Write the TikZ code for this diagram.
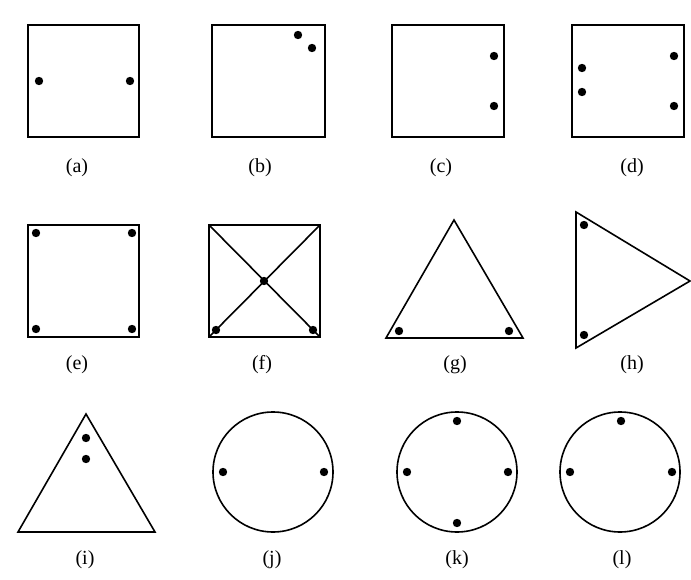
\documentclass[tikz,border=0pt]{standalone}
\usepackage{fontspec}
\setmainfont{Liberation Serif}
\begin{document}
\begin{tikzpicture}[x=1pt,y=-1pt,
  shape line/.style={line width=1.6pt, line join=miter},
  dot/.style={fill=black},
  lab/.style={font=\fontsize{20}{24}\selectfont, inner sep=0pt}]
\useasboundingbox (0,0) rectangle (691,580);
\def\dr{4.2}
% (a)
\draw[shape line] (28,25) rectangle (139,137);
\fill[dot] (39,81) circle (\dr) (130,81) circle (\dr);
\node[lab] (la) at (77,168) {(a)};
% (b)
\draw[shape line] (212,25) rectangle (325,137);
\fill[dot] (298,35) circle (\dr) (312,48) circle (\dr);
\node[lab] (lb) at (260,168) {(b)};
% (c)
\draw[shape line] (392,25) rectangle (504,137);
\fill[dot] (494,56) circle (\dr) (494,106) circle (\dr);
\node[lab] (lc) at (441,168) {(c)};
% (d)
\draw[shape line] (572,25) rectangle (684,137);
\fill[dot] (582,68) circle (\dr) (582,92) circle (\dr) (674,56) circle (\dr) (674,106) circle (\dr);
\node[lab] (ld) at (632,168) {(d)};
% (e)
\draw[shape line] (28,225) rectangle (139,337);
\fill[dot] (36,233) circle (\dr) (132,233) circle (\dr) (36,329) circle (\dr) (132,329) circle (\dr);
\node[lab] (le) at (77,365) {(e)};
% (f)
\draw[shape line] (209,225) rectangle (320,337);
\draw[shape line] (209,225) -- (320,337) (320,225) -- (209,337);
\fill[dot] (264,281) circle (\dr) (216,330) circle (\dr) (313,330) circle (\dr);
\node[lab] (lf) at (262,365) {(f)};
% (g)
\draw[shape line] (454,220) -- (386,338) -- (523,338) -- cycle;
\fill[dot] (399,331) circle (\dr) (509,331) circle (\dr);
\node[lab] (lg) at (455,365) {(g)};
% (h)
\draw[shape line] (576,212) -- (576,348) -- (690,281) -- cycle;
\fill[dot] (584,225) circle (\dr) (584,335) circle (\dr);
\node[lab] (lh) at (632,365) {(h)};
% (i)
\draw[shape line] (86,414) -- (18,532) -- (155,532) -- cycle;
\fill[dot] (86,438) circle (\dr) (86,459) circle (\dr);
\node[lab] (li) at (85,560) {(i)};
% (j)
\draw[shape line] (273,472) circle (60);
\fill[dot] (223,472) circle (\dr) (324,472) circle (\dr);
\node[lab] (lj) at (272,560) {(j)};
% (k)
\draw[shape line] (457,472) circle (60);
\fill[dot] (457,421) circle (\dr) (457,523) circle (\dr) (407,472) circle (\dr) (508,472) circle (\dr);
\node[lab] (lk) at (457,560) {(k)};
% (l)
\draw[shape line] (620,472) circle (60);
\fill[dot] (621,421) circle (\dr) (570,472) circle (\dr) (672,472) circle (\dr);
\node[lab] (ll) at (622,560) {(l)};
\end{tikzpicture}
\end{document}
